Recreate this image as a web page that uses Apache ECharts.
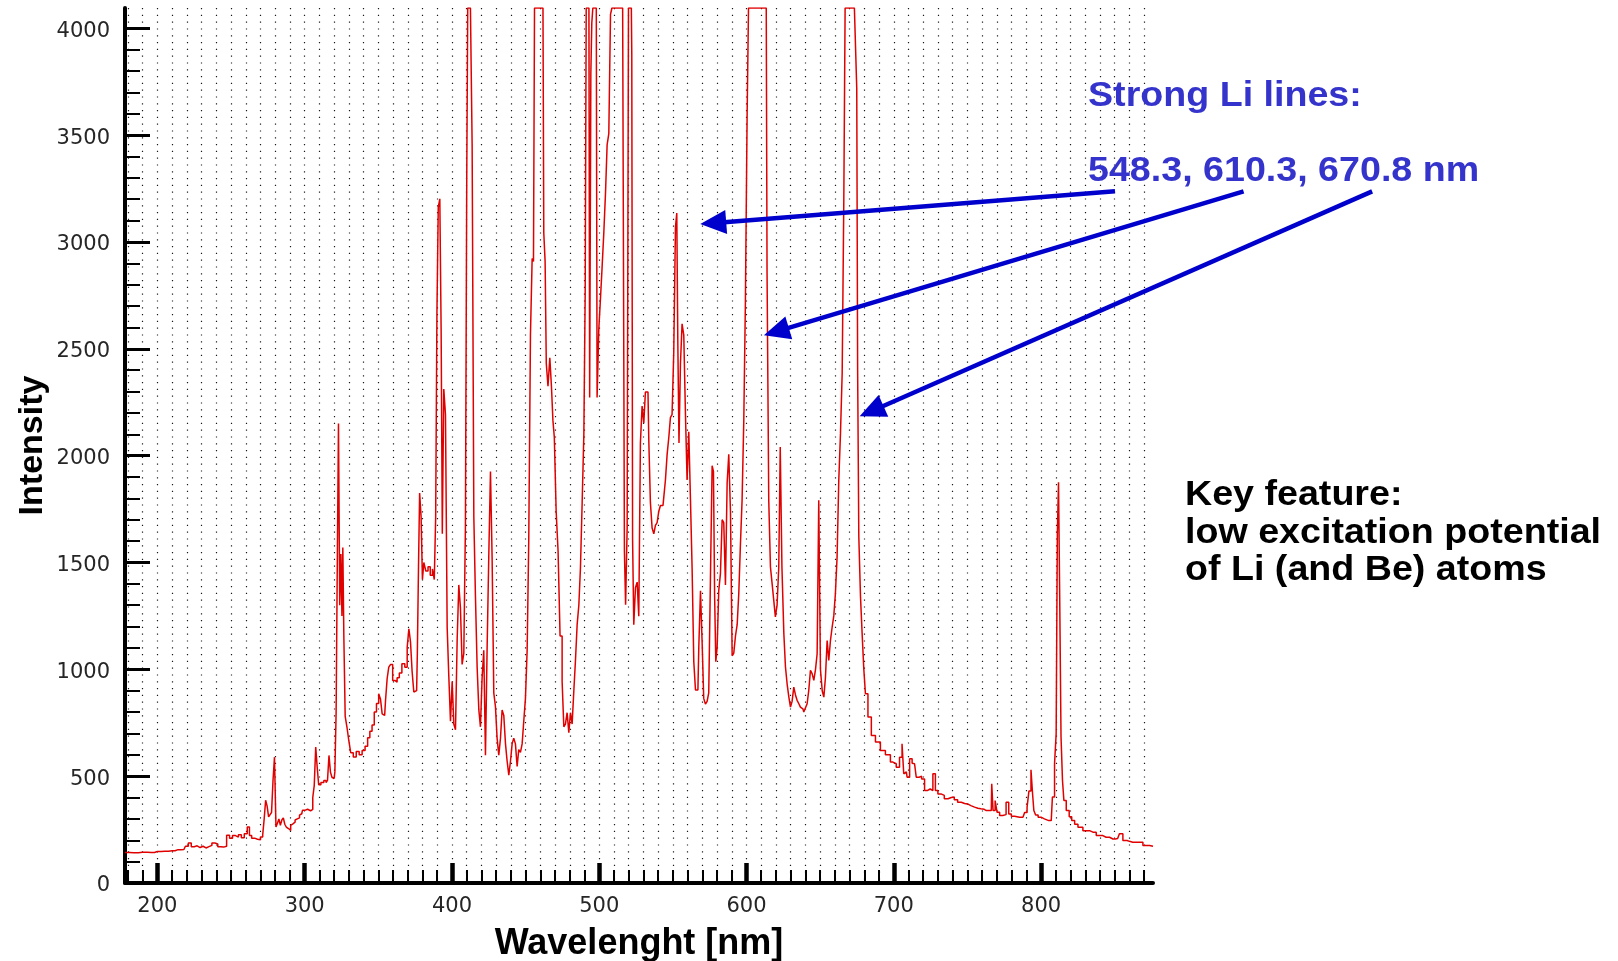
<!DOCTYPE html>
<html>
<head>
<meta charset="utf-8">
<title>Li spectrum</title>
<script src="https://cdn.jsdelivr.net/npm/echarts@6/dist/echarts.min.js"></script>
<style>
    html, body { margin: 0; padding: 0; background: #fff; }
    #main { width: 1618px; height: 961px; }
</style>
</head>
<body>
<div id="main"></div>
<script>
// spectrum: wavelength in nm, intensity in counts (4095 = saturated)
let wavelength = [
    178, 184, 190, 196, 200, 205, 210, 214, 218, 220, 222, 224, 226, 228, 230, 232, 234, 236, 238, 240,
    242, 244, 246, 248, 250, 252, 254, 256, 258, 260, 262, 263, 265, 267, 269, 271, 272, 273, 274, 275,
    276, 277, 278, 279, 280, 281, 282, 283, 284, 285, 286, 287, 288, 289, 290, 291, 292, 293, 294, 295,
    296, 297, 298, 299, 301, 303, 305, 306, 307, 308, 309, 310, 312, 314, 315, 316, 317, 318, 319, 320,
    321, 321.7, 322.5, 323.4, 324.2, 325, 325.6, 326.2, 327, 328, 329.4, 330.5, 332, 334, 336, 338, 340, 342, 343.5, 345,
    346.5, 348, 349.5, 351, 352, 353.2, 354.3, 355.5, 356.5, 357.7, 359, 360.5, 362, 363.5, 365, 367, 369, 370.2, 371.3, 372.4,
    373.5, 374.7, 376, 377, 377.6, 378.5, 379.6, 380.3, 381.5, 383, 384.5, 386, 387.5, 388.5, 389.4, 390.2, 391.2, 392.3, 393, 393.9,
    395, 396.2, 397.3, 398.4, 399.6, 400.7, 401.8, 403, 404.1, 405.2, 406.3, 407.5, 408.6, 409.7, 410.4, 411, 412, 413.1, 414.3, 415.4,
    416.5, 417.7, 418.8, 419.9, 421, 422.2, 423.3, 424.4, 425.6, 426.7, 427.8, 429, 430.1, 431.2, 432.4, 433.5, 434.6, 435.8, 436.9, 438,
    439.2, 440.3, 441.4, 442.5, 443.7, 444.8, 445.9, 447.1, 448.2, 449.3, 450.5, 451.6, 452.7, 453.9, 455, 455.7, 456.4, 458, 460, 461.8,
    462.9, 463.6, 464.5, 465.9, 467, 468.1, 469, 470, 471.5, 472.6, 474.2, 475.4, 476.5, 477.6, 478.8, 479.9, 481, 482.2, 483.3, 484.4,
    485.6, 486.7, 487.8, 489, 490.1, 490.8, 491.5, 493, 494, 494.6, 495.3, 496, 498, 499.1, 500.3, 501.4, 502.5, 503.7, 504.8, 505.9,
    507.1, 508.2, 509, 511, 513, 515, 516.8, 517.4, 518.4, 519.5, 520.2, 521.8, 522.4, 522.9, 524, 525.2, 526.3, 527.4, 528.5, 529.7,
    530.8, 531.9, 533.1, 534.2, 535.3, 536.5, 537.6, 538.7, 539.9, 541, 542.1, 543.3, 544.4, 545.5, 546.7, 547.8, 548.9, 550, 551.2, 552.3,
    553, 553.7, 554.6, 555.7, 556.8, 558, 559.1, 560.2, 561.4, 562.5, 563.6, 564.8, 565.9, 567, 568.2, 569.3, 570.4, 571.5, 572.7, 573.8,
    574.9, 576.1, 577.2, 577.9, 578.8, 579.5, 580.6, 581.7, 582.9, 584, 585.1, 586.3, 587.4, 588.5, 589.7, 590.8, 591.9, 593.1, 594.2, 595.3,
    596.4, 597.6, 598.7, 599.8, 601, 601.7, 604, 607, 610, 613.4, 614.5, 615.7, 616.8, 618, 619, 620.2, 621.3, 622.5, 623.3, 624.8,
    625.9, 627, 628.2, 629.3, 630.4, 631.5, 632.7, 633.8, 634.9, 636, 637.2, 638.3, 639.5, 640.6, 641.7, 642.8, 644, 645.1, 646.3, 647.4,
    648.5, 649.6, 650.8, 652, 653, 654.2, 655.3, 656.4, 657.6, 658.7, 659.8, 660.9, 662.1, 663.2, 664.4, 665.5, 666.6, 667.3, 670, 672,
    674.5, 675.2, 675.7, 676.8, 678, 679.1, 680.2, 681.3, 683.6, 685.9, 689.2, 692.6, 696, 699.4, 700.5, 702.8, 705, 706.2, 707.3, 708.5,
    709.6, 711.9, 713, 714.1, 716.4, 718, 719.8, 722, 724, 725.4, 727.7, 728.8, 731.1, 733, 735.6, 738, 740.1, 742, 744.7, 747,
    749.2, 751, 753.7, 756, 758.2, 760, 762.8, 766.2, 766.8, 768, 769.6, 770.7, 773, 775, 777.5, 778.6, 781, 783.1, 787.7, 790,
    791, 792.5, 793.8, 794.6, 795.6, 797, 799, 801, 803.5, 806.9, 808.5, 809.8, 810.7, 811.4, 812.3, 813, 814.1, 815, 816, 818.2,
    820, 821.6, 824, 826.1, 830.7, 835.2, 839.7, 844.2, 848.8, 852, 854.4, 856.7, 860, 862.3, 866.9, 871.4, 876
];
let intensity = [
    143, 142, 144, 143, 147, 149, 151, 156, 157, 172, 187, 170, 174, 166, 172, 164, 170, 176, 187, 183,
    170, 168, 172, 224, 210, 222, 215, 226, 212, 230, 262, 222, 210, 205, 202, 215, 225, 300, 387, 360,
    309, 320, 330, 480, 589, 262, 280, 300, 270, 295, 305, 275, 262, 255, 246, 270, 277, 285, 295, 300,
    305, 318, 324, 340, 345, 338, 345, 400, 457, 636, 542, 460, 470, 480, 470, 480, 597, 519, 495, 489,
    520, 800, 1460, 2150, 1300, 1540, 1250, 1570, 1150, 780, 730, 667, 610, 590, 615, 600, 620, 640, 680, 710,
    740, 800, 840, 886, 860, 792, 784, 855, 957, 1010, 1023, 948, 940, 960, 983, 1026, 1010, 1103, 1190, 1129,
    990, 894, 900, 1076, 1488, 1825, 1714, 1421, 1500, 1460, 1480, 1440, 1470, 1420, 1714, 2670, 3162, 3202, 2590, 1634,
    2312, 2192, 1196, 970, 757, 943, 744, 717, 1143, 1395, 1289, 1023, 1076, 1674, 3308, 4095, 4095, 4095, 3454, 1714,
    1342, 1010, 810, 731, 957, 1089, 598, 1089, 1528, 1926, 1528, 890, 824, 678, 598, 678, 810, 784, 651, 571,
    505, 571, 651, 678, 651, 545, 624, 611, 651, 757, 864, 1089, 1607, 2564, 2923, 2909, 4095, 4095, 4095, 4095,
    3042, 2909, 2431, 2325, 2458, 2325, 2165, 2086, 1740, 1554, 1156, 943, 731, 744, 797, 704, 797, 744, 900, 1040,
    1209, 1300, 1475, 1780, 2099, 2750, 4095, 4095, 2272, 3786, 4025, 4095, 4095, 2272, 2590, 2737, 2883, 3042, 3228, 3454,
    3507, 4065, 4095, 4095, 4095, 4095, 4095, 1554, 1302, 1661, 4095, 4095, 3879, 1607, 1209, 1382, 1408, 1249, 2059, 2232,
    2152, 2298, 2298, 2072, 1780, 1661, 1634, 1674, 1687, 1740, 1767, 1767, 1807, 1886, 2006, 2086, 2179, 2192, 2484, 3069,
    3135, 2537, 2059, 2431, 2617, 2564, 2192, 1886, 2112, 1793, 1475, 1036, 903, 903, 1103, 1368, 1129, 864, 837, 850,
    890, 1421, 1953, 1926, 1342, 1036, 1103, 1368, 1448, 1700, 1687, 1395, 1873, 2006, 1740, 1063, 1076, 1156, 1209, 1355,
    1581, 1793, 2165, 2723, 3587, 4095, 4095, 4095, 4095, 4095, 2856, 1791, 1479, 1400, 1323, 1245, 1300, 1479, 2040, 1479,
    1167, 1011, 930, 870, 823, 850, 917, 880, 855, 840, 823, 815, 800, 820, 839, 900, 995, 980, 948, 1000,
    1073, 1791, 1000, 900, 870, 963, 1135, 1042, 1135, 1198, 1250, 1354, 1526, 1885, 2103, 2384, 3187, 4095, 4095, 4095,
    4095, 3718, 2400, 1620, 1339, 1160, 1000, 886, 777, 690, 660, 620, 600, 566, 558, 542, 589, 652, 511, 520,
    495, 581, 560, 558, 495, 500, 487, 433, 440, 433, 511, 433, 417, 410, 394, 400, 402, 390, 378, 372,
    370, 362, 355, 350, 347, 345, 339, 339, 464, 339, 386, 331, 316, 320, 378, 323, 312, 308, 308, 330,
    355, 430, 530, 420, 339, 318, 308, 300, 292, 292, 402, 558, 699, 1634, 1876, 1338, 683, 480, 386, 339,
    310, 292, 275, 261, 245, 238, 222, 214, 206, 208, 230, 199, 195, 191, 191, 175, 172
];
let xMajor = [200, 300, 400, 500, 600, 700, 800];
let yMajor = [0, 500, 1000, 1500, 2000, 2500, 3000, 3500, 4000];
let xMinor = [];
for (let v = 180; v <= 870; v += 10) xMinor.push(v);
let yMinor = [];
for (let v = 0; v <= 4000; v += 100) yMinor.push(v);

// arrows from the note to the Li lines: [tail, tip] in data units
let arrows = [
    [[850.2, 3237], [568.6, 3084]],
    [[937.5, 3237], [611.8, 2563]],
    [[1024.8, 3237], [676.8, 2184]]
];

window.addEventListener('load', function () {
    let chart = echarts.init(document.getElementById('main'));
    let points = wavelength.map(function (w, i) { return [w, intensity[i]]; });
    let boldFont = '"Liberation Sans", Arial, sans-serif';
    let plain = function (v) { return String(v); };

    let option = {
        backgroundColor: '#fff',
        animation: false,
        grid: { left: 125, right: 465, top: 8, bottom: 78, outerBoundsMode: 'none' },
        xAxis: [{
            type: 'value', min: 178, max: 876, position: 'bottom',
            name: 'Wavelenght [nm]', nameLocation: 'middle', nameGap: 43, nameMoveOverlap: false,
            nameTextStyle: { fontFamily: boldFont, fontWeight: 'bold', fontSize: 36, color: '#000' },
            axisLine: { onZero: false, lineStyle: { color: '#000', width: 4 } },
            axisTick: { inside: true, length: 20, customValues: xMajor, lineStyle: { color: '#000', width: 4.5 } },
            axisLabel: { customValues: xMajor, formatter: plain, margin: 13, fontFamily: 'DejaVu Sans', fontSize: 21, color: '#262626' },
            splitLine: { show: false }
        }, {
            // 10 nm ticks and dotted grid
            type: 'value', min: 178, max: 876, position: 'bottom',
            axisLine: { show: false, onZero: false },
            axisTick: { inside: true, length: 13, customValues: xMinor, lineStyle: { color: '#000', width: 2 } },
            axisLabel: { show: false },
            splitLine: { show: true, lineStyle: { color: '#1a1a1a', width: 1.2, type: [1.2, 5.6] } }
        }],
        yAxis: [{
            type: 'value', min: 0, max: 4095, position: 'left',
            name: 'Intensity', nameLocation: 'middle', nameGap: 75, nameRotate: 90, nameMoveOverlap: false,
            nameTextStyle: { fontFamily: boldFont, fontWeight: 'bold', fontSize: 34, color: '#000' },
            axisLine: { show: true, onZero: false, lineStyle: { color: '#000', width: 4 } },
            axisTick: { inside: true, length: 25, customValues: yMajor, lineStyle: { color: '#000', width: 3 } },
            axisLabel: {
                customValues: yMajor, formatter: plain, margin: 15,
                verticalAlign: 'top', lineHeight: 6,
                fontFamily: 'DejaVu Sans', fontSize: 21, color: '#262626'
            },
            splitLine: { show: false }
        }, {
            type: 'value', min: 0, max: 4095, position: 'left',
            axisLine: { show: false, onZero: false },
            axisTick: { inside: true, length: 15, customValues: yMinor, lineStyle: { color: '#000', width: 2 } },
            axisLabel: { show: false },
            splitLine: { show: false }
        }],
        series: [{
            type: 'line',
            xAxisIndex: 0,
            yAxisIndex: 0,
            data: points,
            step: 'middle',
            symbol: 'none',
            showSymbol: false,
            lineStyle: { color: '#e00000', width: 1.5 },
            z: 3
        }]
    };
    chart.setOption(option);

    // notes and arrows, placed after the axes exist
    let blue = '#3434cc';
    let texts = [
        ['Strong Li lines:', 1088, 106.5, blue],
        ['548.3, 610.3, 670.8 nm', 1088, 181.5, blue],
        ['Key feature:', 1185, 506, '#000'],
        ['low excitation potential', 1185, 544, '#000'],
        ['of Li (and Be) atoms', 1185, 581, '#000']
    ];
    let graphic = texts.map(function (t) {
        return {
            type: 'text', x: t[1], y: t[2] + 7, z: 10, scaleX: 1.075,
            style: {
                text: t[0], fill: t[3], font: 'bold 35px ' + boldFont,
                align: 'left', verticalAlign: 'bottom', textAlign: 'left', textVerticalAlign: 'bottom'
            }
        };
    });
    arrows.forEach(function (a) {
        let p0 = chart.convertToPixel({ seriesIndex: 0 }, a[0]);
        let p1 = chart.convertToPixel({ seriesIndex: 0 }, a[1]);
        let dx = p1[0] - p0[0], dy = p1[1] - p0[1];
        let len = Math.sqrt(dx * dx + dy * dy);
        let ux = dx / len, uy = dy / len;
        let headLen = 26, headHalf = 12;
        let bx = p1[0] - ux * headLen, by = p1[1] - uy * headLen;
        graphic.push({
            type: 'line', z: 10,
            shape: { x1: p0[0], y1: p0[1], x2: bx + ux * 2, y2: by + uy * 2 },
            style: { stroke: '#0000cc', lineWidth: 4.5 }
        });
        graphic.push({
            type: 'polygon', z: 10,
            shape: { points: [[p1[0], p1[1]], [bx - uy * headHalf, by + ux * headHalf], [bx + uy * headHalf, by - ux * headHalf]] },
            style: { fill: '#0000cc' }
        });
    });
    chart.setOption({ graphic: graphic });
}, false);
</script>
</body>
</html>
